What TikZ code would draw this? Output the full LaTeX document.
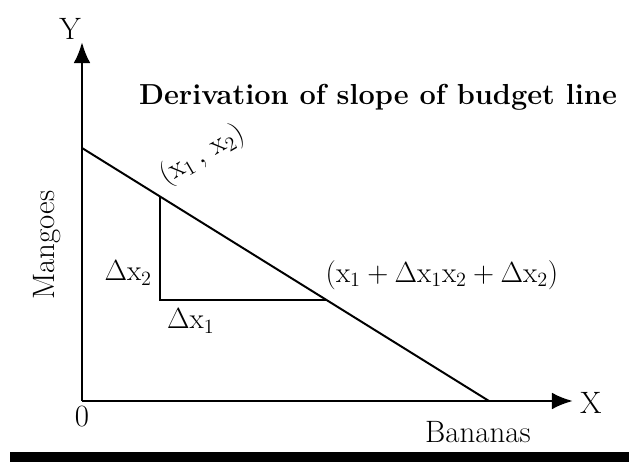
\documentclass[tikz,border=0pt]{standalone}
\usetikzlibrary{arrows.meta}

\begin{document}
\begin{tikzpicture}[every node/.style={font=\fontsize{22}{26}\selectfont},
    axisline/.style={line width=2pt, -{Latex[length=15pt,width=12pt]}},
    thinline/.style={line width=1.4pt}]

        % ==================================================
        % Frame (fixes the margins)
        % ==================================================
        \useasboundingbox (-2.05,-1.525) rectangle (13.675,10.025);
        \fill[black] (-1.8,-1.525) rectangle (13.675,-1.275);

        % ==================================================
        % Axes
        % ==================================================
        \coordinate (O) at (0,0);
        \coordinate (ytip) at (0,8.975);
        \coordinate (xtip) at (12.275,0);
        \draw[axisline] (O) -- (ytip);
        \draw[axisline] (O) -- (xtip);

        % -- Axis labels
        \node (ylab) at (-0.3,9.3) {Y};
        \node (xlab) at (12.72,-0.06) {X};
        \node (origin) at (0,-0.4) {0};
        \node (bananas) at (9.9,-0.78) {Bananas};
        \node[rotate=90] (mangoes) at (-0.88,3.9) {Mangoes};

        % ==================================================
        % Budget line and the small triangle
        % ==================================================
        \coordinate (top) at (0,6.325);
        \coordinate (bottom) at (10.175,0);
        \coordinate (A) at (1.95,5.113);   % (x1,x2)
        \coordinate (B) at (6.113,2.525);  % (x1+dx1, x2+dx2)
        \coordinate (C) at (1.95,2.525);   % corner
        \draw[thinline] (top) -- (bottom);
        \draw[thinline] (A) -- (C) -- (B);

        % -- Point labels
        \node[rotate=30] (alab) at (3.0,6.15) {$(\mathrm{x}_1\,,\,\mathrm{x}_2)$};
        \node (blab) at (9.0,3.15)
          {$(\mathrm{x}_1+\Delta\mathrm{x}_1\mathrm{x}_2+\Delta\mathrm{x}_2)$};
        \node[anchor=east] (dx2) at (1.87,3.2) {$\Delta\mathrm{x}_2$};
        \node (dx1) at (2.72,2.0) {$\Delta\mathrm{x}_1$};

        % ==================================================
        % Title
        % ==================================================
        \node[font=\fontsize{20.6}{24}\selectfont\bfseries] (title) at (7.4,7.6)
          {Derivation of slope of budget line};

\end{tikzpicture}
\end{document}
